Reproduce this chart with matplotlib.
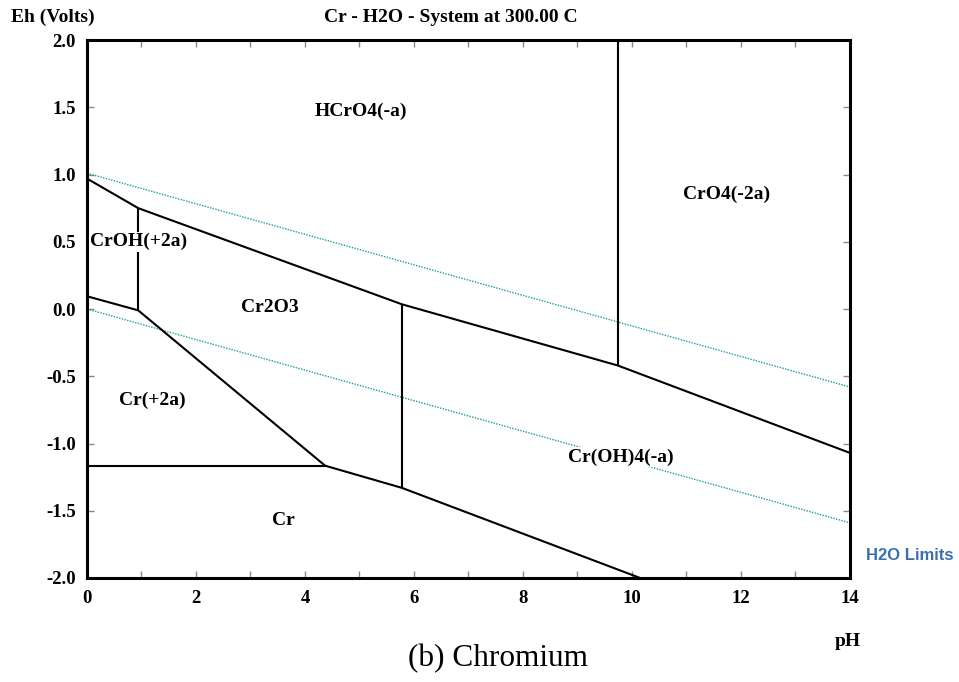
import numpy as np
import matplotlib.pyplot as plt
from matplotlib.ticker import MultipleLocator

# stability field boundaries (pH, Eh)
upper_ph = [0.0, 0.94, 5.78, 9.74, 14.0]
upper_eh = [0.97, 0.75, 0.035, -0.42, -1.07]
lower_ph = [0.0, 0.94, 4.37, 5.78, 10.15]
lower_eh = [0.095, -0.01, -1.165, -1.33, -2.0]
cr2_ph = [0.0, 4.37]
cr2_eh = [-1.165, -1.165]
vert_ph = [0.94, 5.78, 9.74]
vert_lo = [-0.01, -1.33, -0.42]
vert_hi = [0.75, 0.035, 2.0]

# water stability limits
h2o_ph = [0.0, 14.0]
h2o_top = [1.01, -0.58]
h2o_bot = [0.0, -1.59]

species = ['HCrO4(-a)', 'CrO4(-2a)', 'CrOH(+2a)', 'Cr2O3', 'Cr(+2a)', 'Cr(OH)4(-a)', 'Cr']
species_ph = [5.03, 11.74, 0.95, 3.36, 1.19, 9.8, 3.6]
species_eh = [1.47, 0.855, 0.50, 0.01, -0.68, -1.10, -1.57]

plt.rcParams['font.family'] = ['Liberation Serif', 'DejaVu Serif']

fig = plt.figure(figsize=(9.59, 6.82), dpi=100)
ax = fig.add_axes([0.0907, 0.1525, 0.7956, 0.7888])

teal = '#1f9a9e'
ax.plot(h2o_ph, h2o_top, color=teal, lw=1.0, ls=(0, (1, 1)))
ax.plot(h2o_ph, h2o_bot, color=teal, lw=1.0, ls=(0, (1, 1)))

ax.plot(upper_ph, upper_eh, color='black', lw=1.5)
ax.plot(lower_ph, lower_eh, color='black', lw=1.5)
ax.plot(cr2_ph, cr2_eh, color='black', lw=1.5)
ax.vlines(vert_ph, vert_lo, vert_hi, color='black', lw=1.5)

# field names sit on a white patch so boundaries don't cut through them
for name, x, y in zip(species, species_ph, species_eh):
    ax.text(x, y, name, ha='center', va='center', fontsize=14, fontweight='bold',
            bbox=dict(facecolor='white', edgecolor='none', pad=1.0), zorder=5)

ax.set_xlim(0, 14)
ax.set_ylim(-2.0, 2.0)
ax.xaxis.set_major_locator(MultipleLocator(2))
ax.xaxis.set_minor_locator(MultipleLocator(1))
ax.yaxis.set_major_locator(MultipleLocator(0.5))
ax.yaxis.set_major_formatter(plt.FormatStrFormatter('%.1f'))
ax.tick_params(which='both', direction='in', top=True, right=True,
               color='#888888', width=1, length=5)
ax.tick_params(axis='x', which='major', labelsize=13.5, pad=9)
ax.tick_params(axis='y', which='major', labelsize=13.5, pad=8)
for lab in ax.get_xticklabels() + ax.get_yticklabels():
    lab.set_fontweight('bold')
for sp in ax.spines.values():
    sp.set_linewidth(2.2)

fig.text(0.011, 0.975, 'Eh (Volts)', fontsize=14, fontweight='bold', va='center')
fig.text(0.470, 0.975, 'Cr - H2O - System at 300.00 C', fontsize=14,
         fontweight='bold', ha='center', va='center')
fig.text(0.884, 0.06, 'pH', fontsize=14, fontweight='bold', ha='center', va='center')
fig.text(0.519, 0.035, '(b) Chromium', fontsize=22.5, ha='center', va='center')
fig.text(0.949, 0.185, 'H2O Limits', fontsize=12, fontweight='bold', color='#3d6fb0',
         ha='center', va='center', family=['Liberation Sans', 'DejaVu Sans'])

fig.savefig('out.png', dpi=100)
